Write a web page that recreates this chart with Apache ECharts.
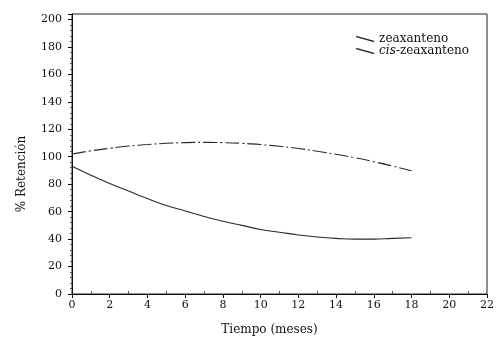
<!DOCTYPE html>
<html>
<head>
<meta charset="utf-8">
<script src="https://cdn.jsdelivr.net/npm/echarts@6/dist/echarts.min.js"></script>
<style>html,body{margin:0;padding:0;background:#fff}#c{width:499px;height:341px}</style>
</head>
<body>
<div id="c"></div>
<script>
const months = [0,1,2,3,4,5,6,7,8,9,10,11,12,13,14,15,16,17,18];
const zeaxanteno = [93,86.5,80.5,75,69.5,64.5,60.5,56.5,53,50,47,45,43,41.5,40.5,40,40,40.5,41];
const cisZeaxanteno = [102,104.3,106.2,107.8,108.9,109.8,110.3,110.5,110.3,109.8,108.9,107.6,106,104,101.8,99.3,96.4,93.2,89.8];
const xTicks = [0,2,4,6,8,10,12,14,16,18,20,22];
const yTicks = [0,20,40,60,80,100,120,140,160,180,200];
const seriesNames = ['zeaxanteno','cis-zeaxanteno'];

const FONT = 'DejaVu Serif';
const chart = echarts.init(document.getElementById('c'), null, {renderer:'canvas'});
chart.setOption({
  animation:false,
  backgroundColor:'#fff',
  grid:{left:72,right:12,top:14,bottom:47,show:true,borderColor:'#222',borderWidth:1,backgroundColor:'transparent'},
  legend:{
    top:28,right:25,orient:'vertical',itemGap:0,itemWidth:18,itemHeight:7,
    icon:'path://M0,0 L18,5 L18,6.3 L0,1.3 Z',
    textStyle:{fontFamily:FONT,fontSize:12,color:'#111',
      rich:{i:{fontFamily:FONT,fontStyle:'italic',fontSize:12,color:'#111'},n:{fontFamily:FONT,fontSize:12,color:'#111'}}},
    formatter:function(n){ if(n==='cis-zeaxanteno'){return '{i|cis}{n|-zeaxanteno}';} return n; },
    data:seriesNames
  },
  xAxis:{
    type:'value',min:xTicks[0],max:xTicks[xTicks.length-1],interval:2,
    name:'Tiempo (meses)',nameLocation:'middle',nameGap:30,
    nameTextStyle:{fontFamily:FONT,fontSize:12,color:'#111',padding:[0,20,0,0]},
    axisLine:{show:true,onZero:false,lineStyle:{color:'#111',width:1}},
    axisTick:{show:true,length:4,lineStyle:{color:'#111'}},
    minorTick:{show:true,splitNumber:2,length:-3,lineStyle:{color:'#555'}},
    axisLabel:{fontFamily:FONT,fontSize:11,color:'#111',margin:6},
    splitLine:{show:false}
  },
  yAxis:{
    type:'value',min:0,max:204,interval:20,
    name:'% Retención',nameLocation:'middle',nameGap:44,
    nameTextStyle:{fontFamily:FONT,fontSize:12,color:'#111',padding:[0,40,0,0]},
    axisLine:{show:true,lineStyle:{color:'#111',width:1}},
    axisTick:{show:true,length:4,lineStyle:{color:'#111'}},
    minorTick:{show:true,splitNumber:5,length:2,lineStyle:{color:'#555'}},
    axisLabel:{fontFamily:FONT,fontSize:11,color:'#111',margin:10,showMaxLabel:false,
      formatter:function(v){return yTicks.indexOf(v)>=0? String(v):'';}},
    splitLine:{show:false}
  },
  series:[
    {name:seriesNames[0],type:'line',smooth:true,symbol:'none',
     data:months.map((m,i)=>[m,zeaxanteno[i]]),
     lineStyle:{color:'#2a2a2a',width:1.1,type:'solid'},itemStyle:{color:'#2a2a2a'}},
    {name:seriesNames[1],type:'line',smooth:true,symbol:'none',
     data:months.map((m,i)=>[m,cisZeaxanteno[i]]),
     lineStyle:{color:'#2a2a2a',width:1.1,type:[14,3,2,3]},itemStyle:{color:'#2a2a2a'}}
  ]
});
</script>
</body>
</html>
